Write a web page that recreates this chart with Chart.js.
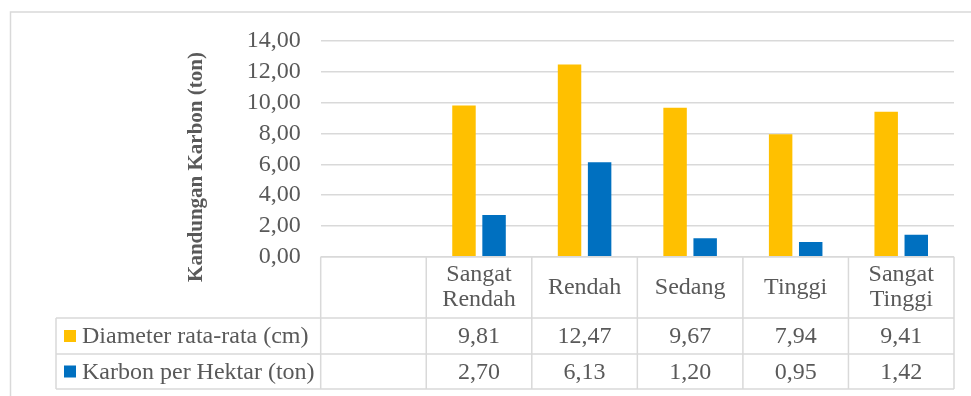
<!DOCTYPE html>
<html>
<head>
<meta charset="utf-8">
<script src="https://cdn.jsdelivr.net/npm/chart.js@4.4.1/dist/chart.umd.min.js"></script>
<style>
  html, body { margin: 0; padding: 0; background: #fff; }
  #wrap { width: 971px; height: 396px; position: relative; }
</style>
</head>
<body>
<div id="wrap"><canvas id="chartCanvas" width="971" height="396"></canvas></div>
<script>
// data chart
const categories = [[''], ['Sangat', 'Rendah'], ['Rendah'], ['Sedang'], ['Tinggi'], ['Sangat', 'Tinggi']];
const seriesNames = ['Diameter rata-rata (cm)', 'Karbon per Hektar (ton)'];
const diameter = [null, 9.81, 12.47, 9.67, 7.94, 9.41];
const karbon = [null, 2.70, 6.13, 1.20, 0.95, 1.42];
const seriesColors = ['#FFC000', '#0070C0'];
const yTicks = [0, 2, 4, 6, 8, 10, 12, 14];
const yTitle = 'Kandungan Karbon (ton)';

const FONT = "'Liberation Serif', 'Times New Roman', serif";
const TEXT = '#595959';
const LINE = '#d9d9d9';

function fmt(v) {
    return v == null ? '' : v.toFixed(2).replace('.', ',');
}

// plugin untuk tabel data, bingkai dan judul sumbu
const tablePlugin = {
    id: 'dataTable',
    afterDraw(chart) {
        const ctx = chart.ctx;
        const x = chart.scales.x;
        const area = chart.chartArea;
        const n = categories.length;
        const colW = (x.right - x.left) / n;
        const y0 = area.bottom;
        const y1 = 318;
        const y2 = 354;
        const y3 = 389;
        const legendLeft = 56;

        ctx.save();
        // bingkai luar
        ctx.strokeStyle = LINE;
        ctx.lineWidth = 1.5;
        ctx.beginPath();
        ctx.moveTo(10.5, 396);
        ctx.lineTo(10.5, 12);
        ctx.lineTo(971, 12);
        ctx.stroke();

        // garis tabel
        ctx.beginPath();
        ctx.moveTo(x.left, y0); ctx.lineTo(x.right, y0);
        [y1, y2, y3].forEach(y => { ctx.moveTo(legendLeft, y); ctx.lineTo(x.right, y); });
        ctx.moveTo(legendLeft, y1); ctx.lineTo(legendLeft, y3);
        for (let k = 0; k <= n; k++) {
            const xx = x.left + k * colW;
            ctx.moveTo(xx, y0); ctx.lineTo(xx, y3);
        }
        ctx.stroke();

        // label kategori
        ctx.fillStyle = TEXT;
        ctx.font = '24px ' + FONT;
        ctx.textAlign = 'center';
        ctx.textBaseline = 'middle';
        const headMid = (y0 + y1) / 2;
        categories.forEach((lines, i) => {
            const cx = x.getPixelForValue(i);
            const lh = 25;
            lines.forEach((t, j) => {
                ctx.fillText(t, cx, headMid + (j - (lines.length - 1) / 2) * lh);
            });
        });

        // baris nilai
        const rows = [diameter, karbon];
        const rowMid = [(y1 + y2) / 2, (y2 + y3) / 2];
        rows.forEach((vals, r) => {
            vals.forEach((v, i) => {
                ctx.fillText(fmt(v), x.getPixelForValue(i), rowMid[r] + 1);
            });
            ctx.fillStyle = seriesColors[r];
            ctx.fillRect(64, rowMid[r] - 6, 12, 12);
            ctx.fillStyle = TEXT;
            ctx.textAlign = 'left';
            ctx.fillText(seriesNames[r], 82, rowMid[r] + 1);
            ctx.textAlign = 'center';
        });

        // judul sumbu y
        ctx.translate(197, 167);
        ctx.rotate(-Math.PI / 2);
        ctx.font = 'bold 21px ' + FONT;
        ctx.fillText(yTitle, 0, 0);
        ctx.restore();
    }
};

const ctx = document.getElementById('chartCanvas').getContext('2d');
const diagnosisChart = new Chart(ctx, {
    type: 'bar',
    data: {
        labels: categories.map(c => c.join(' ')),
        datasets: [{
            label: seriesNames[0],
            data: diameter,
            backgroundColor: seriesColors[0],
            barPercentage: 0.78,
            categoryPercentage: 0.57
        }, {
            label: seriesNames[1],
            data: karbon,
            backgroundColor: seriesColors[1],
            barPercentage: 0.78,
            categoryPercentage: 0.57
        }]
    },
    options: {
        responsive: false,
        animation: false,
        layout: {
            padding: { left: 0, top: 41, right: 17, bottom: 139.3 }
        },
        plugins: {
            legend: { display: false },
            tooltip: { enabled: false }
        },
        scales: {
            x: {
                display: false
            },
            y: {
                min: 0,
                max: 14,
                afterFit: function(scale) { scale.width = 320.7; },
                afterBuildTicks: function(scale) {
                    scale.ticks = yTicks.map(v => ({ value: v }));
                },
                border: { display: false },
                grid: {
                    color: LINE,
                    lineWidth: 1.5,
                    drawTicks: false
                },
                ticks: {
                    autoSkip: false,
                    padding: 20,
                    color: TEXT,
                    font: { family: FONT, size: 24 },
                    callback: function(value) { return fmt(value); }
                }
            }
        }
    },
    plugins: [tablePlugin]
});
</script>
</body>
</html>
